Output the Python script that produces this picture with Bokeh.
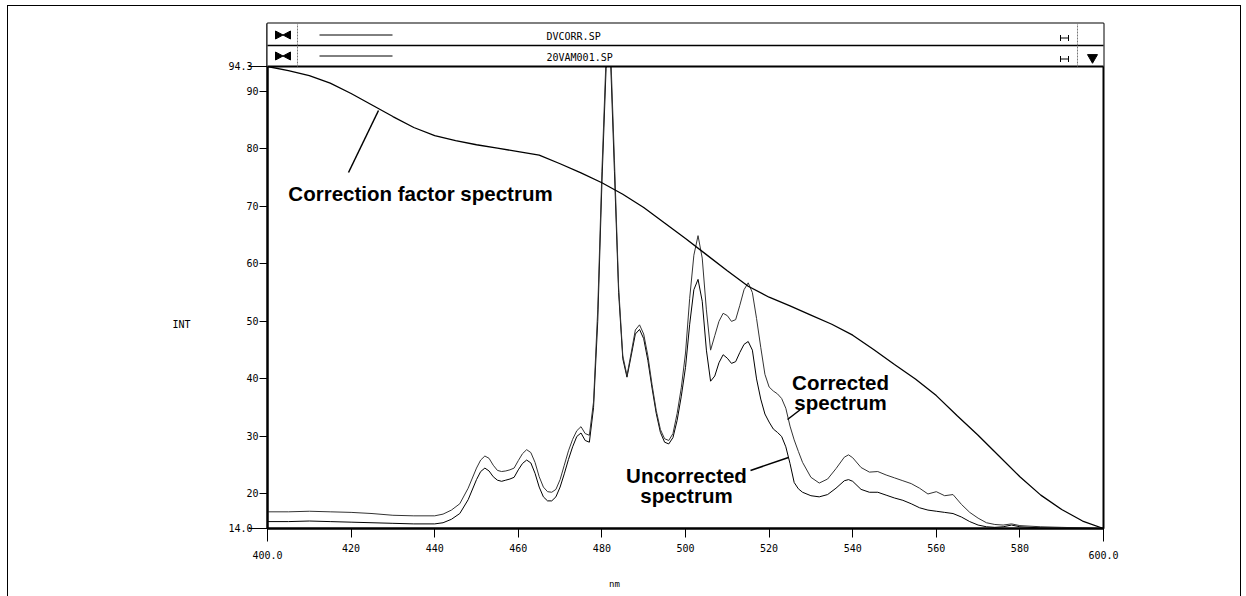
import numpy as np
from bokeh.plotting import figure
from bokeh.models import FixedTicker, LinearAxis, Range1d
from bokeh.core.properties import value
from bokeh.embed import file_html
from bokeh.resources import INLINE

# ---------------- data ----------------
wl_cf = [400, 405, 410, 415, 420, 425, 430, 435, 440, 445, 450, 455, 460, 465, 470,
         475, 480, 485, 490, 495, 500, 505, 510, 515, 520, 525, 530, 535, 540, 545,
         550, 555, 560, 565, 570, 575, 580, 585, 590, 595, 600]
correction_factor = [94.3, 93.6, 92.7, 91.4, 89.6, 87.6, 85.6, 83.7, 82.3, 81.4, 80.7,
                     80.1, 79.5, 78.9, 77.4, 75.8, 74.1, 72.1, 69.8, 67.1, 64.4, 61.6,
                     58.8, 56.1, 54.2, 52.7, 51.1, 49.5, 47.6, 45.1, 42.5, 40.0, 37.1,
                     33.6, 30.2, 26.6, 23.0, 19.8, 17.3, 15.3, 14.0]

wl_spec = [400, 405, 410, 415, 420, 425, 430, 435, 440, 442, 444, 446, 448, 450, 451,
           452, 453, 454, 455, 456, 457, 458, 459, 460, 461, 462, 463, 464, 465, 466,
           467, 468, 469, 470, 471, 472, 473, 474, 475, 476, 477, 478, 479, 480, 481,
           482, 483, 484, 485, 486, 487, 488, 489, 490, 491, 492, 493, 494, 495, 496,
           497, 498, 499, 500, 501, 502, 503, 504, 505, 506, 507, 508, 509, 510, 511,
           512, 513, 514, 515, 516, 517, 518, 519, 520, 521, 522, 523, 524, 525, 526,
           527, 528, 530, 532, 534, 536, 538, 539, 540, 542, 544, 546, 548, 550, 552,
           554, 556, 558, 560, 562, 564, 566, 568, 570, 572, 574, 576, 578, 580, 585,
           590, 595, 600]
corrected = [16.9, 16.9, 17.0, 16.9, 16.8, 16.6, 16.3, 16.2, 16.2, 16.5, 17.2, 18.3, 21.0,
             24.5, 25.9, 26.6, 26.2, 25.0, 24.1, 23.9, 24.0, 24.2, 24.5, 25.8, 27.0, 27.7,
             27.2, 25.5, 23.0, 21.2, 20.4, 20.3, 20.8, 22.5, 25.0, 27.5, 29.5, 31.0, 31.7,
             30.5, 30.2, 36.0, 52.0, 76.0, 96.0, 99.0, 78.0, 56.0, 44.0, 40.6, 44.5, 48.5,
             49.4, 47.8, 44.0, 39.0, 34.5, 31.2, 29.6, 29.3, 30.5, 34.0, 38.5, 44.5, 54.0,
             61.5, 64.9, 61.0, 52.0, 45.0, 47.5, 50.0, 51.4, 51.0, 50.0, 50.3, 52.8, 55.5,
             56.7, 55.0, 50.5, 45.5, 40.8, 38.6, 37.9, 37.4, 36.6, 34.9, 31.8, 29.4, 27.4,
             25.5, 22.9, 21.9, 22.6, 24.4, 26.4, 26.8, 26.3, 24.6, 23.8, 23.9, 23.3, 22.8,
             22.3, 21.8, 21.0, 20.0, 20.4, 19.7, 19.9, 18.2, 16.8, 15.8, 15.0, 14.7, 14.6,
             14.8, 14.5, 14.3, 14.2, 14.1, 14.0]
uncorrected = [15.2, 15.2, 15.3, 15.2, 15.1, 15.0, 14.9, 14.8, 14.8, 15.0, 15.6, 16.6, 19.0,
               22.5, 23.9, 24.5, 24.0, 23.0, 22.4, 22.2, 22.4, 22.6, 22.9, 24.2, 25.3, 25.9,
               25.4, 23.6, 21.2, 19.5, 18.8, 18.8, 19.5, 21.2, 23.5, 26.0, 28.2, 30.0, 30.6,
               29.3, 29.0, 35.0, 50.0, 74.0, 94.0, 97.0, 76.0, 55.0, 43.5, 40.3, 44.0, 47.8,
               48.6, 47.0, 43.2, 38.4, 34.0, 30.7, 29.0, 28.7, 29.8, 32.8, 37.0, 42.0, 49.5,
               55.5, 57.3, 53.5, 45.0, 39.6, 40.5, 42.8, 44.2, 43.6, 42.7, 43.0, 44.6, 46.0,
               46.5, 45.0, 40.0, 36.5, 33.9, 32.5, 31.3, 30.7, 30.0, 28.2, 25.3, 22.0, 20.9,
               20.3, 19.7, 19.5, 19.9, 21.0, 22.3, 22.5, 22.2, 20.8, 20.3, 20.3, 19.8, 19.3,
               18.9, 18.3, 17.6, 17.2, 17.0, 16.8, 16.6, 16.0, 15.2, 14.6, 14.3, 14.2, 14.3,
               14.6, 14.3, 14.1, 14.05, 14.0, 14.0]

x_ticks = [400, 420, 440, 460, 480, 500, 520, 540, 560, 580, 600]
x_tick_labels = ["400.0", "420", "440", "460", "480", "500", "520", "540", "560", "580", "600.0"]
y_ticks = [14.0, 20, 30, 40, 50, 60, 70, 80, 90, 94.3]
y_tick_labels = ["14.0", "20", "30", "40", "50", "60", "70", "80", "90", "94.3"]
file_names = ["DVCORR.SP", "20VAM001.SP"]
x_title, y_title = "nm", "INT"
x_title_at, y_title_at = 483, 49.5      # where the printout writes the axis titles
Y_MIN, Y_MAX = 14.0, 94.3

# ---------------- layout (page pixels) ----------------
OX, OY = 8, 6                      # figure origin on the page
W, H = 1232, 590
FL, FR, FT, FB, PT = 267, 1103, 23, 528, 66   # frame left/right/top/bottom, plot top


def X(px):
    return 400 + (px - FL) * 200.0 / (FR - FL)


def Y(py):
    return Y_MIN + (FB - py) * (Y_MAX - Y_MIN) / (FB - PT)


p = figure(width=W, height=H, output_backend="svg", toolbar_location=None,
           x_range=Range1d(400, 600), y_range=Range1d(Y_MIN, Y(FT)),
           min_border_left=FL - OX, min_border_right=OX + W - FR,
           min_border_top=FT - OY, min_border_bottom=OY + H - FB)
p.styles = {"margin-left": f"{OX}px", "margin-top": f"{OY}px", "outline": "1.5px solid black"}
p.grid.visible = False
p.outline_line_color = "black"
p.outline_line_width = 2
p.background_fill_color = "white"
p.border_fill_color = "white"

MONO = "DejaVu Sans Mono"

# axes
p.xaxis.ticker = FixedTicker(ticks=x_ticks, minor_ticks=[x_ticks[0], x_ticks[-1]])
p.xaxis.major_label_overrides = {t: (("\n" + l) if t in (x_ticks[0], x_ticks[-1]) else l)
                                 for t, l in zip(x_ticks, x_tick_labels)}
p.xaxis.axis_line_width = 2
p.xaxis.major_tick_out = 9
p.xaxis.major_tick_in = 0
p.xaxis.minor_tick_out = 13
p.xaxis.minor_tick_in = 0
p.xaxis.major_label_standoff = 1
p.xaxis.major_label_text_font = MONO
p.xaxis.major_label_text_font_size = "10px"
p.xaxis.major_label_text_line_height = 0.65
p.xaxis.major_label_text_color = "black"

p.yaxis.ticker = FixedTicker(ticks=y_ticks, minor_ticks=[y_ticks[0], y_ticks[-1]])
p.yaxis.major_label_overrides = {t: ((l + "\u00a0") if t in (y_ticks[0], y_ticks[-1]) else l)
                                 for t, l in zip(y_ticks, y_tick_labels)}
p.yaxis.axis_line_width = 2
p.yaxis.major_tick_out = 8
p.yaxis.major_tick_in = 0
p.yaxis.minor_tick_out = 19
p.yaxis.minor_tick_in = 0
p.yaxis.major_label_standoff = -10
p.yaxis.major_label_text_font = MONO
p.yaxis.major_label_text_font_size = "10px"
p.yaxis.major_label_text_color = "black"

# axis titles written as single labels on tick-less helper axes
ya = LinearAxis(ticker=FixedTicker(ticks=[y_title_at]), major_label_overrides={y_title_at: y_title},
                major_label_standoff=35, major_tick_out=0, major_tick_in=0,
                major_label_text_font=MONO, major_label_text_font_size="10px",
                major_label_text_color="black", axis_line_color=None,
                major_tick_line_color=None, minor_tick_line_color=None)
p.add_layout(ya, "left")
xa = LinearAxis(ticker=FixedTicker(ticks=[x_title_at]), major_label_overrides={x_title_at: x_title},
                major_label_standoff=15, major_tick_out=0, major_tick_in=0,
                major_label_text_font=MONO, major_label_text_font_size="9px",
                major_label_text_color="black", axis_line_color=None,
                major_tick_line_color=None, minor_tick_line_color=None)
p.add_layout(xa, "below")

# ---------------- curves ----------------
p.line(wl_spec, uncorrected, line_color="black", line_width=1.0)
p.line(wl_spec, corrected, line_color="#333333", line_width=1.0)
p.line(wl_cf, correction_factor, line_color="black", line_width=1.3)

# ---------------- annotations ----------------
BOLD = value("Liberation Sans")
p.text(x=[X(420)], y=[Y(193)], text=["Correction factor spectrum"], text_font=BOLD,
       text_font_style="bold", text_font_size="20.5px", text_align="center",
       text_baseline="alphabetic", text_color="black")
p.segment(x0=[X(348)], y0=[Y(172)], x1=[X(378)], y1=[Y(110)], line_color="black", line_width=1.5)

p.text(x=[X(840), X(840)], y=[Y(382), Y(402)], text=["Corrected", "spectrum"], text_font=BOLD,
       text_font_style="bold", text_font_size="20.5px", text_align="center",
       text_baseline="alphabetic", text_color="black")
p.segment(x0=[X(800)], y0=[Y(409)], x1=[X(787)], y1=[Y(419)], line_color="black", line_width=1.5)

p.text(x=[X(686), X(686)], y=[Y(475), Y(495)], text=["Uncorrected", "spectrum"], text_font=BOLD,
       text_font_style="bold", text_font_size="20.5px", text_align="center",
       text_baseline="alphabetic", text_color="black")
p.segment(x0=[X(750)], y0=[Y(470)], x1=[X(788)], y1=[Y(457)], line_color="black", line_width=1.5)

# ---------------- header panels (file legend) ----------------
p.quad(left=[400], right=[600], bottom=[Y_MAX], top=[Y(FT)], fill_color="white",
       line_color=None, level="overlay")
p.segment(x0=[400], x1=[600], y0=[Y_MAX], y1=[Y_MAX], line_color="black", line_width=2.2, level="overlay")
p.segment(x0=[400], x1=[600], y0=[Y(45)], y1=[Y(45)], line_color="black", line_width=1.5, level="overlay")
p.segment(x0=[X(297), X(1077)], x1=[X(297), X(1077)], y0=[Y_MAX, Y_MAX], y1=[Y(FT), Y(FT)],
          line_color="#777777", line_width=1, line_dash="2 1", level="overlay")

for cy, name in zip([34.5, 55.5], file_names):
    # bow-tie icon
    p.patches(xs=[[X(275), X(275), X(282.5)], [X(290), X(290), X(282.5)]],
              ys=[[Y(cy - 4), Y(cy + 4), Y(cy)], [Y(cy - 4), Y(cy + 4), Y(cy)]],
              fill_color="black", line_color="black", level="overlay")
    # line sample
    p.segment(x0=[X(319)], x1=[X(392)], y0=[Y(cy)], y1=[Y(cy)], line_color="black",
              line_width=1, level="overlay")
    p.text(x=[X(546)], y=[Y(cy + 1.5)], text=[name], text_font=value(MONO), text_font_size="10px",
           text_align="left", text_baseline="middle", text_color="black", level="overlay")
    # range glyph
    hy = cy + 3
    p.segment(x0=[X(1060), X(1060), X(1068)], x1=[X(1068), X(1060), X(1068)],
              y0=[Y(hy), Y(hy - 3), Y(hy - 3)], y1=[Y(hy), Y(hy + 3), Y(hy + 3)],
              line_color="black", line_width=1, level="overlay")
p.scatter(x=[X(1092)], y=[Y(57)], marker="inverted_triangle", size=10, fill_color="black",
          line_color="black", level="overlay")

open("out.html", "w").write(file_html(p, INLINE))
